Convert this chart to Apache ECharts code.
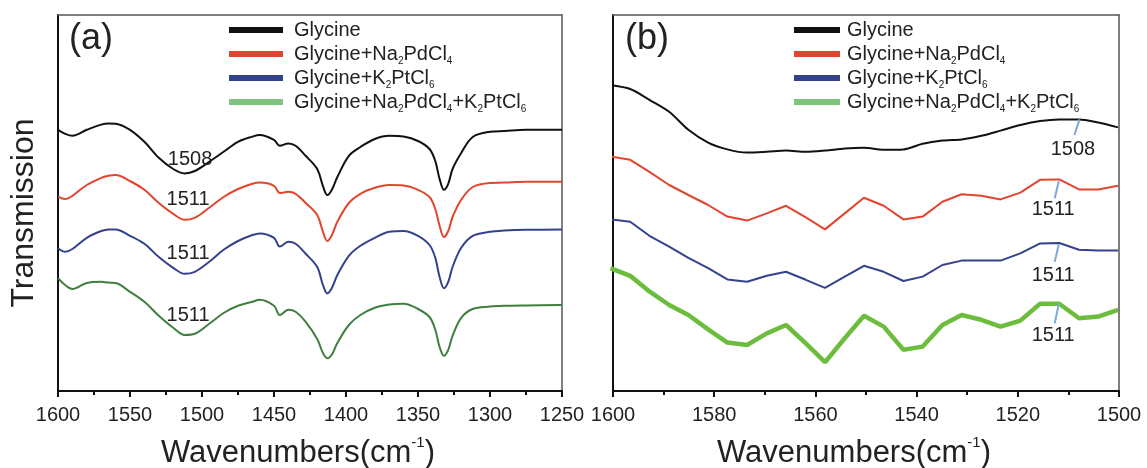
<!DOCTYPE html>
<html>
<head>
<meta charset="utf-8">
<script src="https://cdn.jsdelivr.net/npm/echarts@6/dist/echarts.min.js"></script>
<style>
  html, body { margin: 0; padding: 0; background: #fff; }
  #main { width: 1147px; height: 468px; }
</style>
</head>
<body>
<div id="main"></div>
<script>
// panel (a): wavenumbers and transmission (a.u.)
var A_WN = [1600,1595,1590,1580,1570,1565,1560,1550,1540,1530,1520,1512,1505,1495,1485,1475,1465,1460,1450,1446,1440,1435,1428,1420,1416,1413,1410,1406,1398,1390,1380,1370,1360,1350,1342,1338,1335,1332,1329,1326,1320,1312,1300,1290,1275,1250];
var A_GLY = [65.3,64.3,63.8,65.3,66.6,66.9,66.8,65.3,62.3,58.3,55.5,54.4,55.0,57.3,59.8,62.3,63.6,64.0,62.8,61.3,61.9,61.3,58.8,55.5,51.2,49.0,50.2,53.5,58.8,61.0,63.0,63.8,63.6,62.5,60.5,57.5,53.0,50.3,51.8,55.5,59.5,63.5,64.8,65.0,65.3,65.3];
var A_NA = [48.6,48.0,48.8,51.5,53.3,53.8,54.0,52.5,50.3,47.0,44.3,42.8,43.3,45.8,48.5,50.5,51.8,52.1,51.3,49.5,49.8,49.3,47.0,44.0,39.8,37.5,38.8,42.3,47.0,49.3,50.8,51.5,51.4,50.3,48.5,45.5,41.3,38.5,40.0,43.5,47.8,51.0,52.0,52.1,52.3,52.3];
var A_K = [35.7,34.8,35.5,38.3,40.0,40.4,40.4,38.8,36.8,33.5,30.8,29.3,29.8,32.3,35.3,37.5,39.0,39.4,38.3,36.1,37.3,36.8,34.3,31.0,26.5,24.4,25.6,29.0,33.8,36.3,38.3,39.8,40.0,38.8,36.5,33.3,28.5,25.7,27.3,31.0,35.8,38.8,39.8,40.1,40.3,40.4];
var A_MIX = [28.2,26.5,25.5,27.0,27.3,27.1,27.0,24.8,22.3,18.8,15.8,14.0,14.3,16.8,19.5,21.3,22.3,22.8,21.3,19.0,20.3,19.8,17.3,13.0,9.5,8.2,9.0,12.0,16.5,19.0,20.8,21.6,21.8,20.5,18.5,15.3,11.0,8.8,10.3,13.8,18.3,20.5,21.1,21.3,21.4,21.5];

// panel (b): sampled points
var B_WN = [1600.5,1596.6,1592.8,1588.9,1585.1,1581.2,1577.4,1573.5,1569.6,1565.8,1561.9,1558.1,1554.2,1550.4,1546.5,1542.6,1538.8,1534.9,1531.1,1527.2,1523.4,1519.5,1515.6,1511.8,1507.9,1504.1,1500.2];
var B_GLY = [76.5,75.5,72.8,69.8,65.3,62.1,60.4,59.6,59.8,60.1,59.8,60.1,60.6,60.8,60.3,60.4,61.8,62.6,62.9,63.8,65.1,66.5,67.5,67.9,67.9,67.1,65.9];
var B_NA = [58.6,57.8,54.8,51.5,49.0,46.5,43.6,42.6,44.4,46.3,43.4,40.4,44.4,48.3,46.3,42.9,43.6,47.3,49.2,48.8,47.9,49.6,52.8,52.9,50.4,50.4,51.3];
var B_K = [42.9,42.3,38.8,36.1,33.3,30.7,27.9,27.3,28.8,29.8,27.8,25.8,28.6,31.3,29.8,27.5,28.6,31.5,32.6,32.6,32.6,34.4,36.9,37.0,35.3,35.1,35.1];
var B_MIX = [30.7,28.8,24.9,21.5,19.0,15.4,12.1,11.5,14.4,16.5,11.9,7.2,13.2,18.8,16.1,10.3,11.1,16.5,19.0,17.8,16.1,17.6,21.8,21.8,18.2,18.6,20.3];

// peak labels [text, wavenumber, value]
var A_PEAKS = [['1508', 1508.3, 57.8], ['1511', 1509.7, 47.8], ['1511', 1509.7, 34.3], ['1511', 1509.7, 18.8]];
var B_PEAKS = [['1508', 1509.1, 60.3], ['1511', 1513.0, 45.3], ['1511', 1513.0, 29.0], ['1511', 1513.0, 13.8]];
// leader lines [wn1, v1, wn2, v2]
var B_LEADERS = [[1507.8, 67.9, 1508.8, 64.0], [1511.9, 52.5, 1512.7, 48.2], [1511.9, 36.7, 1512.7, 32.3], [1511.9, 21.8, 1512.7, 16.9]];

var NAMES = ['Glycine', 'Glycine+Na2PdCl4', 'Glycine+K2PtCl6', 'Glycine+Na2PdCl4+K2PtCl6'];
var RICH_NAMES = {
  'Glycine': 'Glycine',
  'Glycine+Na2PdCl4': 'Glycine+Na{s|2}PdCl{s|4}',
  'Glycine+K2PtCl6': 'Glycine+K{s|2}PtCl{s|6}',
  'Glycine+Na2PdCl4+K2PtCl6': 'Glycine+Na{s|2}PdCl{s|4}+K{s|2}PtCl{s|6}'
};
var COLORS = ['#111111', '#e2452e', '#34418c', '#3f7f3f'];
var LEGEND_COLORS = ['#111111', '#e2452e', '#34418c', '#7dc47d'];
var GREEN_B = '#6cbd3e';
var FONT = '"Liberation Sans", Arial, sans-serif';

function zip(xs, ys) {
  return xs.map(function (x, i) { return [x, ys[i]]; });
}

function peakMark(p) {
  return {
    symbol: 'circle',
    symbolSize: 0,
    silent: true,
    label: { show: true, position: 'inside', formatter: p[0], color: '#222', fontSize: 20, fontFamily: FONT },
    data: [{ coord: [p[1], p[2]] }]
  };
}

function leader(l) {
  return {
    silent: true,
    symbol: 'none',
    label: { show: false },
    lineStyle: { color: '#7ea8d8', width: 2, type: 'solid' },
    data: [[{ coord: [l[0], l[1]] }, { coord: [l[2], l[3]] }]]
  };
}

var chart = echarts.init(document.getElementById('main'), null, { renderer: 'canvas' });

function xAxisFor(gi, min, max, interval) {
  return {
    type: 'value', gridIndex: gi, min: min, max: max, interval: interval, inverse: true,
    name: '{a|Wavenumbers(cm}{s|-1}{a|)}',
    nameLocation: 'middle', nameGap: 44,
    nameTextStyle: {
      color: '#222', padding: [0, 24, 0, 0],
      rich: {
        a: { fontSize: 31, lineHeight: 36, fontFamily: FONT, color: '#222' },
        s: { fontSize: 15, lineHeight: 14, verticalAlign: 'top', fontFamily: FONT, color: '#222' }
      }
    },
    axisLine: { show: true, onZero: false, lineStyle: { color: '#111', width: 2 } },
    axisTick: { show: true, inside: false, length: 6, lineStyle: { color: '#111', width: 2 } },
    minorTick: { show: true, splitNumber: 2, length: 4, lineStyle: { color: '#111', width: 2 } },
    axisLabel: { color: '#222', fontSize: 20, fontFamily: FONT, margin: 14, formatter: function (v) { return String(v); } },
    splitLine: { show: false }
  };
}

// top/right frame lines
function frameX(gi) {
  return {
    type: 'value', gridIndex: gi, position: 'top', min: 0, max: 1,
    axisLine: { show: true, onZero: false, lineStyle: { color: '#555', width: 1.5 } },
    axisTick: { show: false }, axisLabel: { show: false }, splitLine: { show: false }
  };
}
function frameY(gi) {
  return {
    type: 'value', gridIndex: gi, position: 'right', min: 0, max: 1,
    axisLine: { show: true, onZero: false, lineStyle: { color: '#555', width: 1.5 } },
    axisTick: { show: false }, axisLabel: { show: false }, splitLine: { show: false }
  };
}

function yAxisFor(gi, withName) {
  return {
    type: 'value', gridIndex: gi, min: 0, max: 94,
    name: withName ? 'Transmission' : '',
    nameLocation: 'middle', nameGap: 18, nameRotate: 90,
    nameTextStyle: { color: '#222', fontSize: 32, fontFamily: FONT, padding: [0, 20, 0, 0] },
    axisLine: { show: true, onZero: false, lineStyle: { color: '#111', width: 2 } },
    axisTick: { show: false },
    axisLabel: { show: false },
    splitLine: { show: false }
  };
}

function legendFor(left, width) {
  return {
    orient: 'vertical', left: left, top: 18, padding: 0, itemGap: 0,
    itemWidth: width, itemHeight: 6, icon: 'rect',
    data: NAMES.map(function (n, i) {
      return { name: n, itemStyle: { color: LEGEND_COLORS[i] } };
    }),
    formatter: function (name) { return RICH_NAMES[name]; },
    textStyle: {
      color: '#222', fontSize: 20, lineHeight: 24, fontFamily: FONT,
      padding: [0, 0, 0, left < 600 ? 6 : 2],
      rich: { s: { fontSize: 10, lineHeight: 10, verticalAlign: 'bottom', fontFamily: FONT, color: '#222' } }
    },
    selectedMode: false
  };
}

var aData = [A_GLY, A_NA, A_K, A_MIX];
var bData = [B_GLY, B_NA, B_K, B_MIX];
var series = [];

aData.forEach(function (vals, i) {
  series.push({
    name: NAMES[i], type: 'line', xAxisIndex: 0, yAxisIndex: 0,
    data: zip(A_WN, vals), showSymbol: false, smooth: 0.35,
    lineStyle: { color: COLORS[i], width: 2 }, itemStyle: { color: COLORS[i] },
    markPoint: peakMark(A_PEAKS[i])
  });
});

bData.forEach(function (vals, i) {
  var c = i === 3 ? GREEN_B : COLORS[i];
  series.push({
    name: NAMES[i], type: 'line', xAxisIndex: 1, yAxisIndex: 1,
    data: zip(B_WN, vals), showSymbol: false, smooth: i === 0 ? 0.3 : false,
    lineStyle: { color: c, width: i === 3 ? 4.5 : 2 }, itemStyle: { color: c },
    markPoint: peakMark(B_PEAKS[i]),
    markLine: leader(B_LEADERS[i])
  });
});

var option = {
  animation: false,
  backgroundColor: '#fff',
  title: [
    { text: '(a)', left: 64, top: 16, textStyle: { fontSize: 36, fontWeight: 'normal', color: '#222', fontFamily: FONT } },
    { text: '(b)', left: 620, top: 16, textStyle: { fontSize: 36, fontWeight: 'normal', color: '#222', fontFamily: FONT } }
  ],
  grid: [
    { left: 58, top: 15, width: 504, height: 376, containLabel: false, outerBoundsMode: 'none' },
    { left: 613, top: 15, width: 506, height: 376, containLabel: false, outerBoundsMode: 'none' }
  ],
  legend: [legendFor(229, 54), legendFor(794, 46)],
  xAxis: [xAxisFor(0, 1250, 1600, 50), xAxisFor(1, 1500, 1600, 20), frameX(0), frameX(1)],
  yAxis: [yAxisFor(0, true), yAxisFor(1, false), frameY(0), frameY(1)],
  series: series
};

chart.setOption(option);
</script>
</body>
</html>
